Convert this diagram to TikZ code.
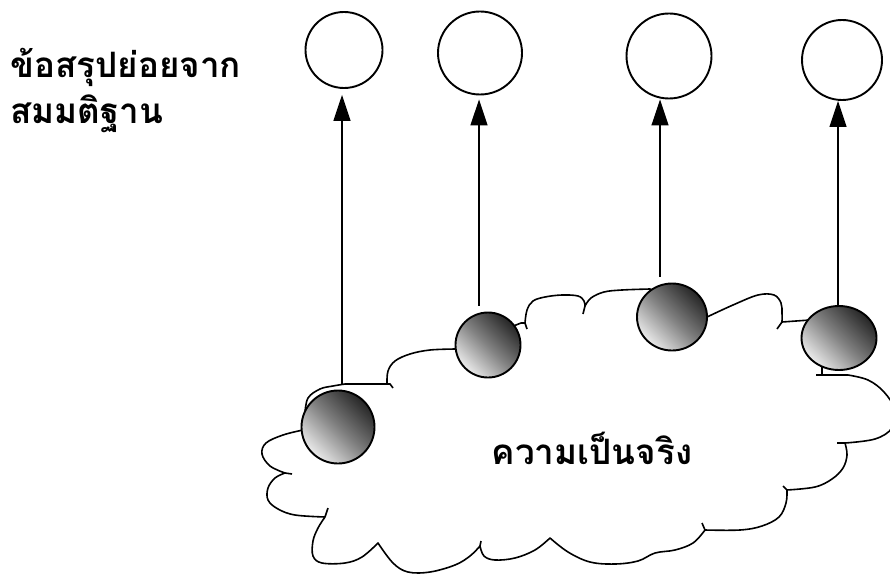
\documentclass[tikz,border=0pt]{standalone}
\usepackage{fontspec}
\newfontfamily\thaifont[Script=Thai]{Loma}
\usetikzlibrary{arrows.meta,shapes.geometric}
\begin{document}
\begin{tikzpicture}[x=1pt,y=-1pt,
  hollow/.style={draw=black, line width=1.9pt, ellipse, inner sep=0pt, fill=white},
  ball/.style={draw=black, line width=1.9pt, ellipse, inner sep=0pt,
    top color=black!85, bottom color=black!8, middle color=black!50, shading angle=-45},
  arr/.style={line width=1.2pt, -{Triangle[length=26pt,width=17pt]}},
  cloudline/.style={draw=black, line width=1.6pt, fill=white, line join=round},
  spur/.style={draw=black, line width=1.6pt},
  lbl/.style={font=\thaifont\bfseries\fontsize{35}{42}\selectfont, inner sep=0pt}
]
\useasboundingbox (0,0) rectangle (890,575);
\clip (0,0) rectangle (890,575);
\fill[white] (0,0) rectangle (890,575);

% cloud
\path[cloudline] (345,384) -- (387,384)
 -- plot[smooth,tension=0.6] coordinates {(387,384) (388,371) (395,361) (410,354) (430,350) (456,349)}
 -- (521,323) -- (525,323)
 -- plot[smooth,tension=0.6] coordinates {(525,323) (527,310) (533,301) (545,297) (562,295) (578,296) (584,301) (585,306)}
 -- plot[smooth,tension=0.6] coordinates {(585,306) (591,298) (604,292) (622,290) (650,289)}
 -- (707,317)
 -- plot[smooth,tension=0.6] coordinates {(707,317) (733,305) (758,295) (774,295) (781,303) (782,313) (782,322)}
 -- (810,320) -- (822,360) -- (822,375) -- (848,375)
 -- plot[smooth,tension=0.6] coordinates {(848,375) (868,380) (884,392) (895,410) (892,428) (875,439) (845,443)}
 -- plot[smooth,tension=0.6] coordinates {(845,443) (847,455) (843,468) (832,479) (815,487) (787,490)}
 -- plot[smooth,tension=0.6] coordinates {(787,490) (786,503) (779,517) (762,526) (740,530) (705,530)}
 -- plot[smooth,tension=0.6] coordinates {(705,530) (693,543) (675,550) (655,553) (638,561) (615,564) (590,562) (568,552) (550,538)}
 -- plot[smooth,tension=0.6] coordinates {(550,538) (535,550) (515,558) (495,560) (484,556) (480,546)}
 -- plot[smooth,tension=0.6] coordinates {(480,546) (470,556) (455,565) (430,572) (408,572) (393,563) (378,543)}
 -- plot[smooth,tension=0.6] coordinates {(378,543) (362,557) (345,563) (322,563) (313,556) (313,541) (318,528) (325,517)}
 -- plot[smooth,tension=0.6] coordinates {(325,517) (295,515) (278,509) (268,500) (268,488) (275,478) (285,473)}
 -- plot[smooth,tension=0.6] coordinates {(285,473) (270,466) (262,454) (266,443) (283,435) (303,430)}
 -- (312,428) -- (305,413)
 -- plot[smooth,tension=0.6] coordinates {(305,413) (308,398) (320,389) (333,386) (345,384)}
 -- cycle;

% small hooks at the cusps of the cloud
\draw[spur] (387,384) -- (390,384) -- (393,388);
\draw[spur] (525,323) -- (527,329);
\draw[spur] (585,306) -- (583,314);
\draw[spur] (782,322) -- (777,329);
\draw[spur] (822,375) -- (816,375);
\draw[spur] (845,443) -- (837,443);
\draw[spur] (787,490) -- (783,486);
\draw[spur] (705,530) -- (702,523);
\draw[spur] (480,546) -- (481,541);
\draw[spur] (325,517) -- (328,508);
\draw[spur] (285,473) -- (292,474);

% spheres on the cloud
\node[ball, minimum width=73pt, minimum height=73pt] (s1) at (338,427) {};
\node[ball, minimum width=65pt, minimum height=65pt] (s2) at (488,345) {};
\node[ball, minimum width=70pt, minimum height=67pt] (s3) at (672,317) {};
\node[ball, minimum width=75pt, minimum height=64pt] (s4) at (839,338) {};

% hollow circles at the top
\node[hollow, minimum width=77pt, minimum height=76pt] (c1) at (344,50) {};
\node[hollow, minimum width=84pt, minimum height=83pt] (c2) at (480,53) {};
\node[hollow, minimum width=85pt, minimum height=85pt] (c3) at (669,56) {};
\node[hollow, minimum width=80pt, minimum height=80pt] (c4) at (842,60) {};

% arrow positions
\coordinate (a1) at (342,0);
\coordinate (a2) at (479,0);
\coordinate (a3) at (660,0);
\coordinate (a4) at (838,0);

\draw[arr, shorten <=6pt, shorten >=6pt] (a1 |- s1.north) -- (a1 |- c1.south);
\draw[arr, shorten <=6pt, shorten >=4pt] (a2 |- s2.north) -- (a2 |- c2.south);
\draw[arr, shorten <=6pt] (a3 |- s3.north) -- (a3 |- c3.south);
\draw[arr] (a4 |- s4.north) -- (a4 |- c4.south);

% texts
\node[lbl, anchor=base west] (t1) at (10,78) {ข้อสรุปย่อยจาก};
\node[lbl, anchor=base west] (t2) at (10,123) {สมมติฐาน};
\node[lbl, anchor=base] (t3) at (592,464) {ความเป็นจริง};
\end{tikzpicture}
\end{document}
